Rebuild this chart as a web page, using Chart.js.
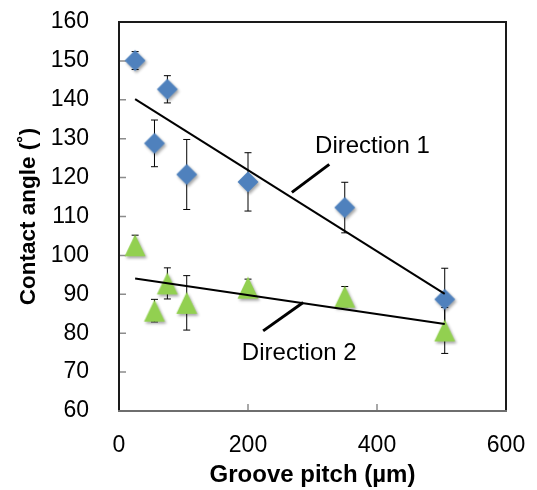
<!DOCTYPE html>
<html lang="en">
<head>
<meta charset="UTF-8">
<title>Contact angle vs groove pitch</title>
<script src="https://cdn.jsdelivr.net/npm/chart.js"></script>
<style>
  html, body { margin: 0; padding: 0; background: #fff; }
</style>
</head>
<body>
<canvas id="grafico" width="537" height="490"></canvas>

<script>
  // values
  const pitch = [25, 55, 75, 105, 200, 350, 505];
  const angleDir1 = [150.1, 128.8, 142.7, 120.8, 118.9, 112.3, 88.7];
  const errDir1 = [2.3, 6, 3.5, 9, 7.5, 6.5, 8];
  const angleDir2 = [102.6, 85.8, 92.8, 87.8, 91.7, 89.4, 80.7];
  const errDir2 = [2.6, 2.9, 4, 7, 2.2, 2.6, 5.9];
  const xTicks = [0, 200, 400, 600];
  const yTicks = [60, 70, 80, 90, 100, 110, 120, 130, 140, 150, 160];

  const fuente = 'Liberation Sans, Arial, sans-serif';

  // least squares line over the range of the data (like the excel trendline)
  function tendencia(xs, ys) {
    const n = xs.length;
    const mx = xs.reduce((a, b) => a + b) / n;
    const my = ys.reduce((a, b) => a + b) / n;
    let sxy = 0, sxx = 0;
    xs.forEach((x, i) => { sxy += (x - mx) * (ys[i] - my); sxx += (x - mx) * (x - mx); });
    const b = sxy / sxx, a = my - b * mx;
    const x0 = Math.min(...xs), x1 = Math.max(...xs);
    return [{ x: x0, y: a + b * x0 }, { x: x1, y: a + b * x1 }];
  }

  // marker images with a soft shadow
  function marcador(tipo, color) {
    const c = document.createElement('canvas');
    c.width = 32; c.height = 32;
    const g = c.getContext('2d');
    g.shadowColor = 'rgba(0,0,0,0.35)';
    g.shadowBlur = 3;
    g.shadowOffsetX = 1.5;
    g.shadowOffsetY = 2;
    g.fillStyle = color;
    g.beginPath();
    if (tipo === 'diamante') {
      g.moveTo(16, 5.5); g.lineTo(26.5, 16); g.lineTo(16, 26.5); g.lineTo(5.5, 16);
    } else {
      g.moveTo(16, 5); g.lineTo(26.5, 27); g.lineTo(5.5, 27);
    }
    g.closePath();
    g.fill();
    return c;
  }

  const notas = [
    { texto: 'Direction 1', x: 304, y: 126.2, linea: [268, 116.2, 326, 123.4] },
    { texto: 'Direction 2', x: 190.5, y: 73.1, linea: [223.5, 80.6, 285.5, 87.9] }
  ];

  const barrasError = {
    id: 'barrasError',
    beforeDatasetsDraw(chart) {
      const ctx = chart.ctx, ys = chart.scales.y;
      ctx.save();
      ctx.strokeStyle = '#000';
      ctx.lineWidth = 1;
      chart.data.datasets.forEach((ds, i) => {
        if (!ds.errores) return;
        chart.getDatasetMeta(i).data.forEach((p, j) => {
          const v = ds.data[j].y, e = ds.errores[j];
          const t = ys.getPixelForValue(v + e), b = ys.getPixelForValue(v - e);
          ctx.beginPath();
          ctx.moveTo(p.x, t); ctx.lineTo(p.x, b);
          ctx.moveTo(p.x - 3.5, t); ctx.lineTo(p.x + 3.5, t);
          ctx.moveTo(p.x - 3.5, b); ctx.lineTo(p.x + 3.5, b);
          ctx.stroke();
        });
      });
      ctx.restore();
    }
  };

  const marco = {
    id: 'marco',
    beforeDatasetsDraw(chart) {
      const { ctx, chartArea: a, scales } = chart;
      ctx.save();
      ctx.strokeStyle = '#8c8c8c';
      ctx.lineWidth = 1.5;
      ctx.beginPath();
      scales.x.ticks.forEach(t => {
        const px = scales.x.getPixelForValue(t.value);
        ctx.moveTo(px, a.bottom); ctx.lineTo(px, a.bottom - 7);
      });
      scales.y.ticks.forEach(t => {
        const py = scales.y.getPixelForValue(t.value);
        ctx.moveTo(a.left, py); ctx.lineTo(a.left + 7, py);
      });
      ctx.stroke();
      ctx.lineWidth = 2;
      ctx.strokeStyle = '#1a1a1a';
      ctx.beginPath();
      ctx.moveTo(a.left, a.bottom); ctx.lineTo(a.left, a.top);
      ctx.lineTo(a.right, a.top); ctx.lineTo(a.right, a.bottom);
      ctx.stroke();
      ctx.strokeStyle = '#6e6e6e';
      ctx.beginPath();
      ctx.moveTo(a.left - 1, a.bottom); ctx.lineTo(a.right + 1, a.bottom);
      ctx.stroke();
      ctx.restore();
    }
  };

  const rotulos = {
    id: 'rotulos',
    afterDraw(chart) {
      const ctx = chart.ctx, xs = chart.scales.x, ys = chart.scales.y;
      ctx.save();
      ctx.fillStyle = '#000';
      ctx.strokeStyle = '#000';
      ctx.lineWidth = 3;
      ctx.font = '24px ' + fuente;
      ctx.textBaseline = 'alphabetic';
      notas.forEach(n => {
        const [x1, y1, x2, y2] = n.linea;
        ctx.beginPath();
        ctx.moveTo(xs.getPixelForValue(x1), ys.getPixelForValue(y1));
        ctx.lineTo(xs.getPixelForValue(x2), ys.getPixelForValue(y2));
        ctx.stroke();
        ctx.fillText(n.texto, xs.getPixelForValue(n.x), ys.getPixelForValue(n.y));
      });
      ctx.restore();
    }
  };

  new Chart(document.getElementById('grafico'), {
    type: 'scatter',
    data: {
      datasets: [
        {
          type: 'line', label: 'Tendencia 1', data: tendencia(pitch, angleDir1),
          borderColor: '#000', borderWidth: 2, pointRadius: 0, fill: false, order: 0
        },
        {
          type: 'line', label: 'Tendencia 2', data: tendencia(pitch, angleDir2),
          borderColor: '#000', borderWidth: 2, pointRadius: 0, fill: false, order: 0
        },
        {
          label: 'Direction 1', data: pitch.map((x, i) => ({ x, y: angleDir1[i] })),
          errores: errDir1, pointStyle: marcador('diamante', '#4f81bd'), pointRadius: 10, order: 1
        },
        {
          label: 'Direction 2', data: pitch.map((x, i) => ({ x, y: angleDir2[i] })),
          errores: errDir2, pointStyle: marcador('triangulo', '#92d050'), pointRadius: 10, order: 1
        }
      ]
    },
    options: {
      responsive: false,
      animation: false,
      layout: { padding: { left: 0, right: 31, top: 22, bottom: 0 } },
      plugins: { legend: { display: false }, tooltip: { enabled: false } },
      scales: {
        x: {
          type: 'linear', min: 0, max: 600,
          afterBuildTicks: s => { s.ticks = xTicks.map(v => ({ value: v })); },
          afterFit: s => { s.height = 79; s.paddingLeft = 0; s.paddingRight = 0; },
          grid: { display: false }, border: { display: false },
          ticks: { color: '#000', font: { family: fuente, size: 23 }, padding: 13, maxRotation: 0 },
          title: {
            display: true, text: 'Groove pitch (µm)', color: '#000',
            font: { family: fuente, size: 24, weight: 'bold' }, padding: { top: 0, bottom: 0 }
          }
        },
        y: {
          min: 60, max: 160,
          afterBuildTicks: s => { s.ticks = yTicks.map(v => ({ value: v })); },
          afterFit: s => { s.width = 119; s.paddingTop = 0; s.paddingBottom = 0; },
          grid: { display: false }, border: { display: false },
          ticks: { color: '#000', font: { family: fuente, size: 23 }, padding: 22 },
          title: {
            display: true, text: 'Contact angle (˚)', color: '#000',
            font: { family: fuente, size: 22.5, weight: 'bold' }, padding: { top: 15, bottom: 0 }
          }
        }
      }
    },
    plugins: [marco, barrasError, rotulos]
  });
</script>
</body>
</html>
